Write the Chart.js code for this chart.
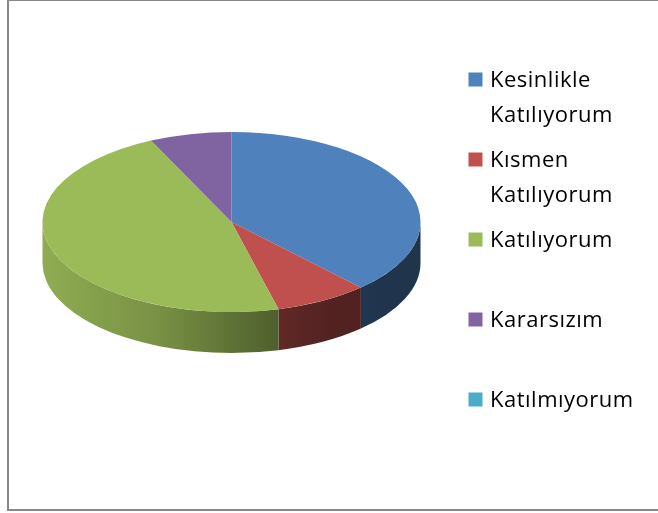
<!DOCTYPE html>
<html>
<head>
<meta charset="utf-8">
<script src="https://cdn.jsdelivr.net/npm/chart.js@4.4.1/dist/chart.umd.min.js"></script>
<style>
  html, body { margin: 0; padding: 0; background: #fff; }
  #wrap { position: relative; width: 658px; height: 513px; overflow: hidden; }
  #frame {
    position: absolute; left: 7px; top: 0; width: 720px; height: 511px;
    border: 2px solid #888; border-top-width: 1px; box-sizing: border-box;
    pointer-events: none;
  }
</style>
</head>
<body>
<div id="wrap">
  <canvas id="pie" width="658" height="513"></canvas>
  <div id="frame"></div>
</div>
<script>
// survey answers
const labels = [['Kesinlikle', 'Katılıyorum'], ['Kısmen', 'Katılıyorum'], 'Katılıyorum', 'Kararsızım', 'Katılmıyorum'];
const values = [38, 8, 47, 7, 0];
const colors = ['#4f81bd', '#c0504d', '#9bbb59', '#8064a2', '#4bacc6'];

const TILT = 90 / 189;   // vertical squash of the pie top
const DEPTH = 41;        // height of the side wall

function shade(hex, f) {
  const n = parseInt(hex.slice(1), 16);
  const r = Math.round(((n >> 16) & 255) * f);
  const g = Math.round(((n >> 8) & 255) * f);
  const b = Math.round((n & 255) * f);
  return 'rgb(' + r + ',' + g + ',' + b + ')';
}

// fake 3d: draw the front walls, then squash the pie into an ellipse
const pie3d = {
  id: 'pie3d',
  beforeDatasetsDraw(chart) {
    const ctx = chart.ctx;
    const meta = chart.getDatasetMeta(0);
    const cx = meta.data[0].x, cy = meta.data[0].y;
    const rx = meta.data[0].outerRadius, ry = rx * TILT;
    meta.data.forEach((arc, i) => {
      const a0 = Math.max(arc.startAngle, 0);
      const a1 = Math.min(arc.endAngle, Math.PI);
      if (a1 <= a0) return;
      const base = chart.data.datasets[0].backgroundColor[i];
      const g = ctx.createLinearGradient(cx - rx, 0, cx + rx, 0);
      g.addColorStop(0, shade(base, 0.92));
      g.addColorStop(0.3, shade(base, 0.78));
      g.addColorStop(0.63, shade(base, 0.5));
      g.addColorStop(0.78, shade(base, 0.42));
      g.addColorStop(1, shade(base, 0.4));
      ctx.beginPath();
      ctx.ellipse(cx, cy, rx, ry, 0, a0, a1);
      ctx.ellipse(cx, cy + DEPTH, rx, ry, 0, a1, a0, true);
      ctx.closePath();
      ctx.fillStyle = g;
      ctx.fill();
    });
    ctx.save();
    ctx.translate(cx, cy);
    ctx.scale(1, TILT);
    ctx.translate(-cx, -cy);
  },
  afterDatasetsDraw(chart) {
    chart.ctx.restore();
  }
};

// legend on the right, one slot per category
const sideLegend = {
  id: 'sideLegend',
  afterDraw(chart) {
    const ctx = chart.ctx;
    const ds = chart.data.datasets[0];
    ctx.save();
    ctx.font = '22px "Open Sans"';
    ctx.letterSpacing = '0.5px';
    ctx.textBaseline = 'alphabetic';
    chart.data.labels.forEach((lab, i) => {
      const y = 87 + i * 80;
      ctx.fillStyle = ds.backgroundColor[i];
      ctx.fillRect(468.5, y - 14.5, 14, 14);
      ctx.fillStyle = '#000';
      const lines = Array.isArray(lab) ? lab : [lab];
      lines.forEach((t, j) => ctx.fillText(t, 490, y + j * 34.5));
    });
    ctx.restore();
  }
};

new Chart(document.getElementById('pie').getContext('2d'), {
  type: 'pie',
  data: {
    labels: labels,
    datasets: [{
      data: values,
      backgroundColor: colors,
      borderWidth: 0
    }]
  },
  options: {
    responsive: false,
    animation: false,
    events: [],
    layout: { padding: { left: 42.5, right: 237.5, top: 33, bottom: 102 } },
    plugins: {
      legend: { display: false },
      tooltip: { enabled: false }
    }
  },
  plugins: [pie3d, sideLegend]
});
</script>
</body>
</html>
